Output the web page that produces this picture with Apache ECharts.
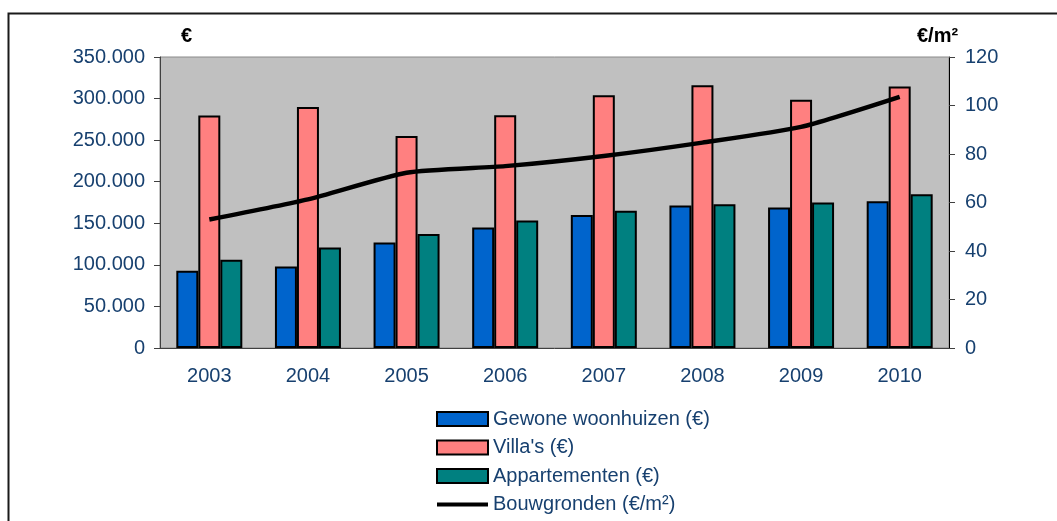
<!DOCTYPE html>
<html>
<head>
<meta charset="utf-8">
<script src="https://cdn.jsdelivr.net/npm/echarts@6/dist/echarts.min.js"></script>
<style>
html,body{margin:0;padding:0;background:#fff;}
#chart{width:1057px;height:521px;}
</style>
</head>
<body>
<div id="chart"></div>
<script>
var categories = ['2003','2004','2005','2006','2007','2008','2009','2010'];
var gewone = [93000, 98000, 127000, 145000, 160000, 171500, 169000, 176500];
var villas = [279500, 290000, 255000, 280000, 304000, 316000, 298500, 314500];
var appartementen = [106000, 121000, 137000, 153500, 165000, 173000, 175000, 185000];
var bouwgronden = [53, 61.3, 72.3, 75, 79.2, 84.7, 91.2, 103.6];
var seriesNames = ['Gewone woonhuizen (€)', "Villa's (€)", 'Appartementen (€)', 'Bouwgronden (€/m²)'];
var leftName = '€';
var rightName = '€/m²';

var txt = '#17406F';
var font = 'Liberation Sans, Arial, sans-serif';

function fmt(v){
  return String(v).replace(/\B(?=(\d{3})+(?!\d))/g, '.');
}

var chart = echarts.init(document.getElementById('chart'));
chart.setOption({
  animation: false,
  backgroundColor: '#fff',
  textStyle: {fontFamily: font},
  grid: {
    left: 160, right: 108, top: 57, bottom: 173,
    show: true, backgroundColor: '#C0C0C0', borderColor: '#8a8a8a', borderWidth: 1
  },
  graphic: [
    {type: 'rect', shape: {x: 8.5, y: 13.5, width: 1200, height: 700}, style: {fill: 'none', stroke: '#1a1a1a', lineWidth: 2}, silent: true, z: -1},
    {type: 'text', left: 181, top: 26, style: {text: leftName, font: 'bold 20px Liberation Sans, Arial, sans-serif', fill: '#000'}},
    {type: 'text', left: 917, top: 26, style: {text: rightName, font: 'bold 20px Liberation Sans, Arial, sans-serif', fill: '#000'}}
  ],
  legend: {
    orient: 'vertical',
    left: 436, top: 409, padding: 0,
    itemWidth: 51, itemHeight: 14, itemGap: 8.5,
    textStyle: {color: txt, fontSize: 20, fontFamily: font, lineHeight: 20},
    data: [
      {name: seriesNames[0], icon: 'rect', itemStyle: {borderColor: '#000', borderWidth: 2}},
      {name: seriesNames[1], icon: 'rect', itemStyle: {borderColor: '#000', borderWidth: 2}},
      {name: seriesNames[2], icon: 'rect', itemStyle: {borderColor: '#000', borderWidth: 2}},
      {name: seriesNames[3], icon: 'path://M0,0H51V4H0Z', itemStyle: {color: '#000', borderWidth: 0}}
    ]
  },
  xAxis: {
    type: 'category',
    data: categories,
    axisLine: {lineStyle: {color: '#404040', width: 1}},
    axisTick: {length: 6, lineStyle: {color: '#404040'}},
    axisLabel: {color: txt, fontSize: 20, fontFamily: font, margin: 18}
  },
  yAxis: [
    {
      type: 'value', min: 0, max: 350000, interval: 50000,
      axisLine: {show: true, lineStyle: {color: '#404040', width: 1}},
      axisTick: {show: true, length: 6, lineStyle: {color: '#404040'}},
      splitLine: {show: false},
      axisLabel: {color: txt, fontSize: 20, fontFamily: font, margin: 15, formatter: fmt}
    },
    {
      type: 'value', min: 0, max: 120, interval: 20, position: 'right',
      axisLine: {show: true, lineStyle: {color: '#000', width: 1}},
      axisTick: {show: true, length: 6, lineStyle: {color: '#404040'}},
      splitLine: {show: false},
      axisLabel: {color: txt, fontSize: 20, fontFamily: font, margin: 16}
    }
  ],
  series: [
    {name: seriesNames[0], type: 'bar', data: gewone, barWidth: 22, barGap: '0%',
     itemStyle: {color: '#0064CC', borderColor: '#000', borderWidth: 2}},
    {name: seriesNames[1], type: 'bar', data: villas, barWidth: 22, barGap: '0%',
     itemStyle: {color: '#FF8080', borderColor: '#000', borderWidth: 2}},
    {name: seriesNames[2], type: 'bar', data: appartementen, barWidth: 22, barGap: '0%',
     itemStyle: {color: '#008080', borderColor: '#000', borderWidth: 2}},
    {name: seriesNames[3], type: 'line', yAxisIndex: 1, data: bouwgronden, symbol: 'none', smooth: 0.2,
     lineStyle: {color: '#000', width: 4.5}, itemStyle: {color: '#000'}, z: 5}
  ]
});
</script>
</body>
</html>
